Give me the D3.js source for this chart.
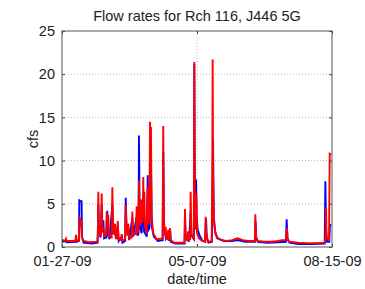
<!DOCTYPE html>
<html>
<head>
<meta charset="utf-8">
<script src="https://cdn.jsdelivr.net/npm/d3@7"></script>
<style>
  body { margin: 0; background: #fff; }
  text { font-family: "Liberation Sans", Arial, sans-serif; fill: #222; }
</style>
</head>
<body>
<script>
"use strict";

// tick dates and y ticks
var tickDates = ["2009-01-27", "2009-05-07", "2009-08-15"];
var yTicks = [0, 5, 10, 15, 20, 25];

// [days since 01-27-09, cfs]
var blueFlow = [[0,0.6],[3,0.7],[3.4,0.55],[10,0.6],[10.5,0.8],[11,0.6],[12.6,0.7],[12.8,5.4],[13.6,5.3],[14.5,5.3],[14.8,1.2],[16,0.5],[22,0.4],[26.4,0.5],[26.9,5.0],[27.4,1.8],[28.6,1.1],[29.4,5.0],[29.9,1.7],[30.6,3.1],[31.2,1.0],[32.8,1.1],[33.5,4.2],[34.2,1.4],[35.2,0.9],[37.3,4.9],[37.9,1.5],[39.3,2.2],[40,0.9],[41.3,2.6],[42,0.7],[44.2,1.2],[44.8,0.5],[46.8,0.7],[47.2,5.7],[47.9,1.7],[49.1,2.2],[49.8,0.8],[52.1,3.4],[52.7,1.2],[55.3,3.5],[56,1.3],[56.7,1.6],[57.0,12.9],[57.6,2.5],[59,1.6],[60.2,6.0],[60.8,1.8],[62.8,1.2],[63.5,8.3],[64.1,2.0],[64.8,2.2],[65.3,10.0],[65.9,9.5],[66.5,2.4],[68,1.2],[71,0.7],[74.6,0.8],[75,11.0],[75.6,2.4],[77,1.0],[78.7,1.6],[79.3,0.7],[80,2.2],[80.6,0.6],[84,0.4],[90.8,0.4],[91.1,3.2],[91.7,0.9],[93.3,1.4],[94,0.6],[95.3,4.0],[95.9,1.3],[97.7,0.9],[98.0,21.2],[98.5,4.0],[99.3,7.8],[99.7,3.6],[100.5,2.0],[102,1.3],[104,0.7],[106,0.6],[106.7,3.3],[107.3,1.0],[108.5,0.5],[111,0.6],[111.4,5.0],[111.9,12.4],[112.4,3.5],[113.5,1.8],[115,1.0],[120,0.7],[126,0.7],[130,0.8],[136,0.6],[142.9,0.6],[143.3,3.0],[143.9,1.0],[145,0.6],[152,0.5],[160,0.55],[165.9,0.6],[166.4,3.2],[167,1.0],[168.5,0.5],[175,0.35],[185,0.35],[194.6,0.4],[195.1,7.6],[195.6,2.0],[196.3,0.6],[198,0.6],[198.4,2.5],[199.4,2.6]];

var redFlow = [[0,0.8],[2.5,0.75],[3,0.95],[3.4,0.7],[9.9,0.7],[10.4,1.4],[10.9,0.75],[12.6,0.8],[13,3.5],[13.5,2.8],[14.1,3.2],[14.7,1.1],[16,0.7],[20,0.55],[26.2,0.6],[26.6,1.6],[26.9,6.4],[27.3,2.4],[28.3,1.3],[29,1.6],[29.4,6.2],[29.9,2.0],[30.6,2.1],[31.3,1.2],[32.7,1.4],[33.1,4.0],[33.6,2.4],[34.2,3.7],[34.8,1.2],[36.8,1.1],[37.3,6.9],[37.8,2.5],[38.7,1.4],[39.3,2.7],[39.8,1.1],[40.9,1.0],[41.3,3.0],[41.9,0.9],[43.8,0.8],[44.2,1.5],[44.8,0.7],[46.7,0.9],[47.2,4.9],[47.8,2.0],[48.6,1.3],[49.1,2.7],[49.7,1.0],[51.6,1.1],[52.1,4.1],[52.6,1.5],[54.8,1.5],[55.3,4.7],[55.9,1.7],[56.6,1.9],[57.0,7.7],[57.6,3.0],[58.3,2.6],[58.7,5.5],[59.2,2.8],[59.8,3.0],[60.2,8.1],[60.6,3.5],[61.0,6.4],[61.5,2.4],[62.6,1.6],[63.5,7.0],[64.0,2.6],[64.7,3.0],[65.2,14.5],[65.5,5.0],[65.9,13.9],[66.4,3.6],[67.5,1.6],[70,0.9],[74.5,1.0],[75.0,14.0],[75.5,3.2],[76.3,1.4],[76.8,2.3],[77.3,1.0],[78.3,0.9],[78.7,2.0],[79.1,0.9],[79.7,1.2],[80.0,2.2],[80.5,0.8],[83,0.5],[90.7,0.5],[91.1,4.4],[91.6,1.2],[92.8,0.7],[93.3,1.8],[93.8,0.8],[94.9,0.9],[95.3,6.4],[95.8,1.5],[97.6,1.0],[98.0,21.4],[98.4,6.0],[99.1,2.0],[99.5,6.2],[100,1.6],[101.5,1.0],[104,0.7],[106.0,0.7],[106.4,3.5],[106.9,1.0],[107.5,1.2],[108,0.6],[110.9,0.7],[111.3,8.6],[111.6,21.7],[111.9,8.0],[112.5,3.0],[113.5,1.6],[115,1.1],[118,0.8],[122,0.7],[126,0.8],[130,1.0],[134,0.8],[138,0.7],[142.8,0.7],[143.2,3.8],[143.7,1.2],[145,0.7],[150,0.6],[155,0.6],[160,0.7],[163,0.8],[165,0.8],[166.2,0.9],[166.6,2.2],[167.1,0.8],[168.5,0.6],[175,0.5],[182,0.45],[190,0.45],[194.8,0.5],[195.2,1.5],[195.6,4.6],[196,1.0],[197.8,0.9],[198.3,10.8],[199.4,10.7]];

var margin = {top: 31, right: 33, bottom: 42, left: 62},
    width = 365 - margin.left - margin.right,
    height = 289 - margin.top - margin.bottom;

var parse = d3.timeParse("%Y-%m-%d"),
    fmt = d3.timeFormat("%m-%d-%y"),
    ticks = tickDates.map(parse),
    start = ticks[0];

function toDate(d) { return new Date(start.getTime() + d * 864e5); }

var x = d3.scaleTime().domain([ticks[0], ticks[ticks.length - 1]]).range([0, width]);
var y = d3.scaleLinear().domain([0, 25]).range([height, 0]);

var svg = d3.select("body").append("svg")
    .attr("width", 365)
    .attr("height", 289);

var g = svg.append("g")
    .attr("transform", "translate(" + margin.left + "," + margin.top + ")");

// dotted grid
g.selectAll(".hgrid")
  .data(yTicks.slice(1, -1))
  .enter().append("line")
    .attr("x1", 0).attr("x2", width)
    .attr("y1", y).attr("y2", y)
    .attr("stroke", "#bbb").attr("stroke-dasharray", "1,2");

g.selectAll(".vgrid")
  .data(ticks.slice(1, -1))
  .enter().append("line")
    .attr("x1", x).attr("x2", x)
    .attr("y1", 0).attr("y2", height)
    .attr("stroke", "#bbb").attr("stroke-dasharray", "1,2");

// flow lines
var line = d3.line()
    .x(function (d) { return x(toDate(d[0])); })
    .y(function (d) { return y(d[1]); });

g.append("path").datum(blueFlow)
    .attr("d", line).attr("fill", "none")
    .attr("stroke", "#0000ff").attr("stroke-width", 1.9);

g.append("path").datum(redFlow)
    .attr("d", line).attr("fill", "none")
    .attr("stroke", "#ff0000").attr("stroke-width", 1.9);

// axes, matlab style box with inward ticks
var fs = "14.5px";
g.append("g").attr("transform", "translate(0," + height + ")")
  .call(d3.axisBottom(x).tickValues(ticks).tickFormat(fmt).tickSizeInner(-3).tickSizeOuter(0).tickPadding(9))
  .call(function (a) { a.select(".domain").remove(); });
g.append("g")
  .call(d3.axisTop(x).tickValues(ticks).tickFormat("").tickSizeInner(-3).tickSizeOuter(0))
  .call(function (a) { a.select(".domain").remove(); });
g.append("g")
  .call(d3.axisLeft(y).tickValues(yTicks).tickSizeInner(-3).tickSizeOuter(0).tickPadding(7))
  .call(function (a) { a.select(".domain").remove(); });
g.append("g").attr("transform", "translate(" + width + ",0)")
  .call(d3.axisRight(y).tickValues(yTicks).tickFormat("").tickSizeInner(-3).tickSizeOuter(0))
  .call(function (a) { a.select(".domain").remove(); });

g.selectAll(".tick text").style("font-size", fs).attr("fill", "#222");
g.selectAll(".tick line").attr("stroke", "#444");

g.append("rect")
    .attr("width", width).attr("height", height)
    .attr("fill", "none").attr("stroke", "#555");

// labels
svg.append("text")
    .attr("x", margin.left + width / 2).attr("y", 21)
    .attr("text-anchor", "middle").style("font-size", fs)
    .text("Flow rates for Rch 116, J446 5G");

svg.append("text")
    .attr("x", margin.left + width / 2).attr("y", 284)
    .attr("text-anchor", "middle").style("font-size", fs)
    .text("date/time");

svg.append("text")
    .attr("transform", "translate(38," + (margin.top + height / 2) + ") rotate(-90)")
    .attr("text-anchor", "middle").style("font-size", fs)
    .text("cfs");
</script>
</body>
</html>
